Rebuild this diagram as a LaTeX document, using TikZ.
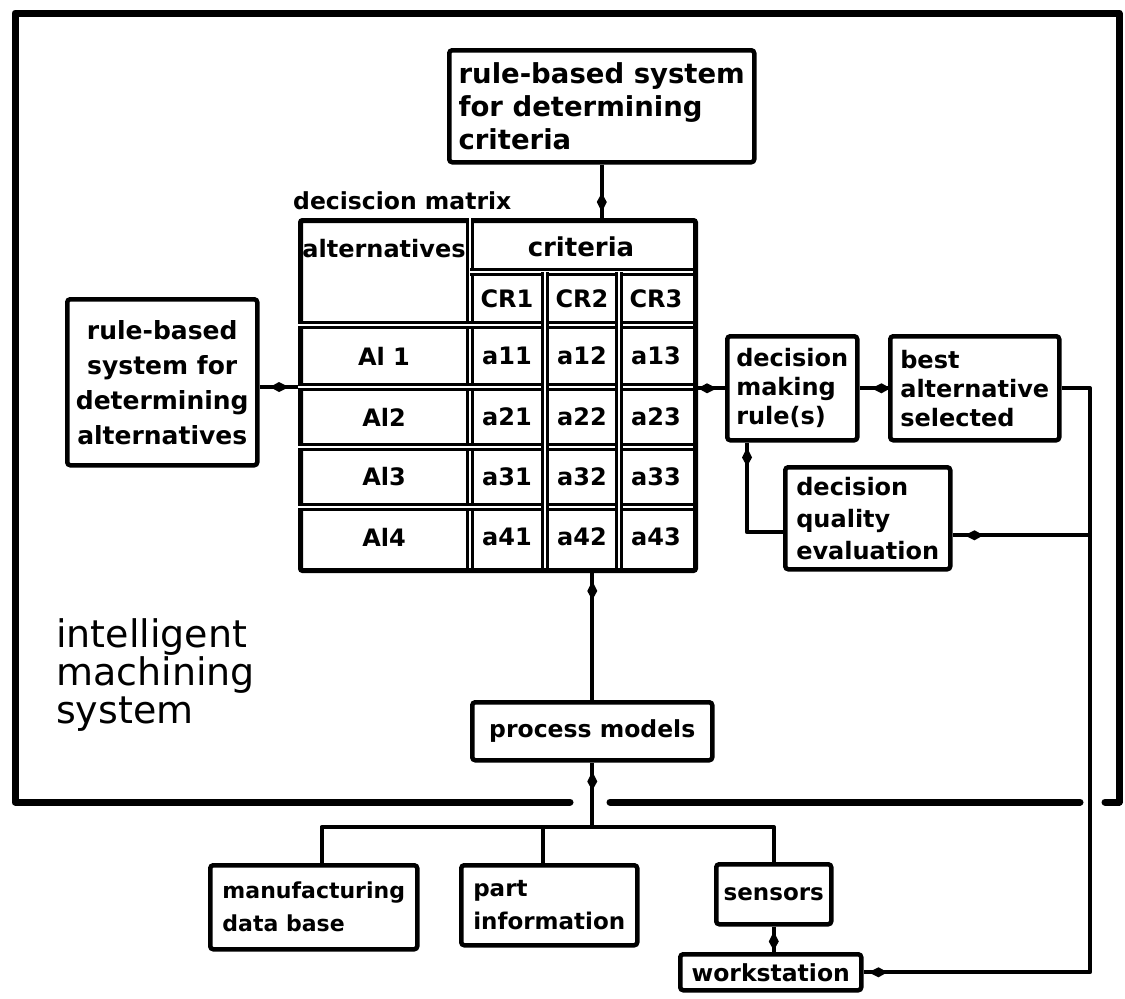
\documentclass[tikz,border=0pt]{standalone}
\usepackage{fontspec}
\setmainfont{DejaVu Sans}
\usetikzlibrary{arrows.meta,decorations.markings,calc}

\begin{document}
\begin{tikzpicture}[x=1pt,y=-1pt,
  frame/.style={line width=7pt, line cap=round, line join=round},
  box/.style={draw, line width=4.5pt, rounded corners=3pt, anchor=north west,
    inner sep=0pt, align=left, font=\bfseries\fontsize{24}{29}\selectfont},
  conn/.style={line width=4.2pt, line join=round},
  tipat/.style={postaction={decorate,decoration={markings,
    mark=at position #1 with {\arrow{Kite[length=19pt,width=10pt,inset=9pt]}}}}},
  cell/.style={font=\bfseries\fontsize{24}{28}\selectfont, inner sep=0pt},
  divider/.style={double, double distance=2pt, line width=2.6pt},
]
\useasboundingbox (0,0) rectangle (1125,999);

% outer frame of the intelligent machining system
\draw[frame] (1105,802) -- (1119,802) -- (1119,13) -- (15,13) -- (15,802) -- (570,802);
\draw[frame] (610,802) -- (1080,802);

% boxes
\node[box, minimum width=305pt, minimum height=112pt, font=\bfseries\fontsize{27.5}{33}\selectfont]
  (crit) at (447,48) {rule-based system\\for determining\\criteria};
\node[box, minimum width=190pt, minimum height=166pt, align=center, font=\bfseries\fontsize{25}{35}\selectfont]
  (alt) at (65,297) {rule-based\\system for\\determining\\alternatives};
\node[box, minimum width=130pt, minimum height=104pt] (dmr) at (725,334) {decision\\making\\rule(s)};
\node[box, minimum width=169pt, minimum height=104pt] (best) at (888,334) {best\\alternative\\selected};
\node[box, minimum width=165pt, minimum height=102pt, font=\bfseries\fontsize{24}{32}\selectfont]
  (dqe) at (783,465) {decision\\quality\\evaluation};
\node[box, minimum width=240pt, minimum height=58pt, font=\bfseries\fontsize{23.5}{28}\selectfont]
  (pm) at (470,700) {process models};
\node[box, minimum width=207pt, minimum height=84pt, font=\bfseries\fontsize{22}{33}\selectfont]
  (mfg) at (208,863) {manufacturing\\data base};
\node[box, minimum width=176pt, minimum height=80pt, font=\bfseries\fontsize{23}{33}\selectfont]
  (part) at (459,863) {part\\information};
\node[box, minimum width=115pt, minimum height=60pt, font=\bfseries\fontsize{23}{28}\selectfont]
  (sens) at (714,862) {sensors};
\node[box, minimum width=181pt, minimum height=36pt, font=\bfseries\fontsize{23.5}{28}\selectfont]
  (ws) at (678,952) {workstation};

% decision matrix
\node[anchor=base west, inner sep=0pt, font=\bfseries\fontsize{23.5}{28}\selectfont]
  (mtitle) at (293,209) {deciscion matrix};
\node[draw, line width=5pt, rounded corners=2pt, anchor=north west, inner sep=0pt,
  minimum width=395pt, minimum height=350pt] (mat) at (298,218) {};
\draw[divider] (470,218) -- (470,568);
\draw[divider] (470,272) -- (693,272);
\draw[divider] (298,325) -- (693,325);
\draw[divider] (298,387) -- (693,387);
\draw[divider] (298,447) -- (693,447);
\draw[divider] (298,507) -- (693,507);
\draw[divider] (545,272) -- (545,568);
\draw[divider] (619,272) -- (619,568);

\node[cell] (hAlt) at (384,249) {alternatives};
\node[cell, font=\bfseries\fontsize{26}{28}\selectfont] (hCrit) at (581,247) {criteria};
\node[cell] (cr1) at (507,299) {CR1};
\node[cell] (cr2) at (582,299) {CR2};
\node[cell] (cr3) at (656,299) {CR3};

\node[cell] (al1) at (384,356) {Al 1};
\node[cell] (a11) at (507,356) {a11};
\node[cell] (a12) at (582,356) {a12};
\node[cell] (a13) at (656,356) {a13};

\node[cell] (al2) at (384,417) {Al2};
\node[cell] (a21) at (507,417) {a21};
\node[cell] (a22) at (582,417) {a22};
\node[cell] (a23) at (656,417) {a23};

\node[cell] (al3) at (384,477) {Al3};
\node[cell] (a31) at (507,477) {a31};
\node[cell] (a32) at (582,477) {a32};
\node[cell] (a33) at (656,477) {a33};

\node[cell] (al4) at (384,537) {Al4};
\node[cell] (a41) at (507,537) {a41};
\node[cell] (a42) at (582,537) {a42};
\node[cell] (a43) at (656,537) {a43};

% system label
\node[anchor=north west, align=left, inner sep=0pt, font=\fontsize{38}{38}\selectfont]
  (ims) at (56,618) {intelligent\\machining\\system};

% helper coordinates
\coordinate (r2) at (0,387);
\coordinate (fb) at (1090,0);
\coordinate (xq) at (747,0);
\coordinate (busy) at (0,827);
\coordinate (qin) at ($(dqe.east)+(0,17)$);
\coordinate (qout) at ($(dqe.west)+(0,14)$);
\coordinate (dmrb) at (dmr.south -| xq);
\coordinate (mfgin) at ($(mfg.north)+(8,0)$);
\coordinate (partin) at ($(part.north)+(-6,0)$);

% connectors
\draw[conn, tipat=-6pt] (crit.south) -- (crit.south |- mat.north);
\draw[conn, tipat=-9pt] (alt.east |- r2) -- (mat.west |- r2);
\draw[conn, tipat=-8pt] (mat.east |- dmr.west) -- (dmr.west);
\draw[conn, tipat=-12pt] (best.west) -- (dmr.east);
\draw[conn, tipat=-5pt] (best.east) -- (best.east -| fb) |- (ws.east);
\draw[conn, tipat=-12pt] (fb |- qin) -- (qin);
\draw[conn, tipat=-5pt] (qout) -| (dmrb);
\draw[conn, tipat=-8pt] (pm.north) -- (pm.north |- mat.south);
\draw[conn, tipat=-9pt] (pm.south |- busy) -- (pm.south);
\draw[conn] (mfgin) |- (sens.north |- busy) -- (sens.north);
\draw[conn] (partin) -- (partin |- busy);
\draw[conn, tipat=-5pt] (sens.south |- ws.north) -- (sens.south);
\end{tikzpicture}
\end{document}
